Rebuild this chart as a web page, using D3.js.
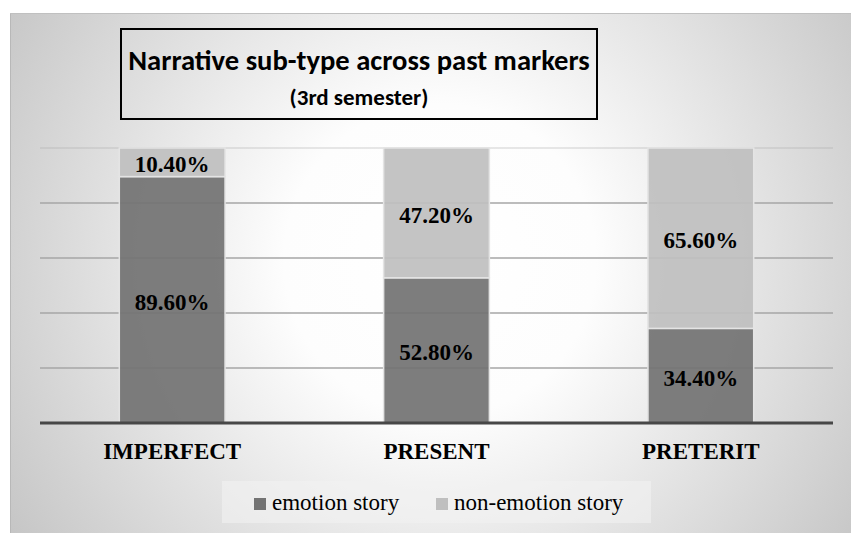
<!DOCTYPE html>
<html>
<head>
<meta charset="utf-8">
<script src="https://cdn.jsdelivr.net/npm/d3@7"></script>
<style>
  body { margin: 0; background: #fff; }
  svg { display: block; }
</style>
</head>
<body>
<svg class="chart"></svg>
<script>
let categories = ["IMPERFECT", "PRESENT", "PRETERIT"];
let emotion = [0.896, 0.528, 0.344];
let nonEmotion = [0.104, 0.472, 0.656];
let seriesNames = ["emotion story", "non-emotion story"];
let gridTicks = [0, 0.2, 0.4, 0.6, 0.8, 1];

let width = 851;
let height = 533;
let colors = ["#737373", "#bfbfbf"];
let serif = "'Liberation Serif', 'Times New Roman', serif";
let calibri = "Carlito, Calibri, Lato, sans-serif";

let svg = d3.select(".chart")
  .attr("width", width)
  .attr("height", height);

// background with soft radial gradient like the Excel chart area
let defs = svg.append("defs");
let grad = defs.append("radialGradient")
  .attr("id", "bg")
  .attr("gradientUnits", "userSpaceOnUse")
  .attr("cx", 440).attr("cy", 260).attr("r", 520);
grad.append("stop").attr("offset", "0%").attr("stop-color", "#ffffff");
grad.append("stop").attr("offset", "30%").attr("stop-color", "#fdfdfd");
grad.append("stop").attr("offset", "100%").attr("stop-color", "#c4c4c4");

svg.append("rect")
  .attr("x", 10).attr("y", 13)
  .attr("width", width - 10).attr("height", height - 13)
  .attr("fill", "url(#bg)");
svg.append("line")
  .attr("x1", 10.5).attr("x2", 10.5).attr("y1", 13).attr("y2", height)
  .attr("stroke", "#b8b8b8");
svg.append("line")
  .attr("x1", 10).attr("x2", width).attr("y1", 13.5).attr("y2", 13.5)
  .attr("stroke", "#c0c0c0");

let x = d3.scaleBand()
  .domain(categories)
  .range([40, 833])
  .paddingInner(0.6)
  .paddingOuter(0.3);

let y = d3.scaleLinear()
  .domain([0, 1])
  .range([423, 148]);

// gridlines
svg.append("g")
  .selectAll("line")
  .data(gridTicks.slice(1))
  .enter().append("line")
  .attr("x1", 40).attr("x2", 833)
  .attr("y1", function(d) { return y(d); })
  .attr("y2", function(d) { return y(d); })
  .attr("stroke", "#a6a6a6")
  .attr("stroke-opacity", function(d) { return d === 1 ? 0.35 : 1; })
  .attr("stroke-width", 1.5);

// stacked data
let rows = categories.map(function(c, i) {
  return { cat: c, emotion: emotion[i], nonEmotion: nonEmotion[i] };
});
let stack = d3.stack().keys(["emotion", "nonEmotion"]);
let layers = stack(rows);

let layer = svg.append("g")
  .selectAll("g")
  .data(layers)
  .enter().append("g")
  .attr("fill", function(d, i) { return colors[i]; });

layer.selectAll("rect")
  .data(function(d) { return d; })
  .enter().append("rect")
  .attr("x", function(d) { return x(d.data.cat); })
  .attr("width", x.bandwidth())
  .attr("y", function(d) { return y(d[1]); })
  .attr("height", function(d) { return y(d[0]) - y(d[1]); })
  .attr("fill-opacity", 0.93)
  .attr("stroke", "#e4e4e4")
  .attr("stroke-width", 1.5);

// value labels
layer.selectAll("text")
  .data(function(d) { return d; })
  .enter().append("text")
  .attr("x", function(d) { return x(d.data.cat) + x.bandwidth() / 2; })
  .attr("y", function(d) { return (y(d[0]) + y(d[1])) / 2 + 10; })
  .attr("text-anchor", "middle")
  .style("font-family", serif)
  .style("font-weight", "bold")
  .style("font-size", "23px")
  .attr("fill", "#000")
  .text(function(d) { return ((d[1] - d[0]) * 100).toFixed(2) + "%"; });

// x axis line
svg.append("line")
  .attr("x1", 40).attr("x2", 833)
  .attr("y1", y(0)).attr("y2", y(0))
  .attr("stroke", "#474747")
  .attr("stroke-width", 3);

// category labels
let xAxis = svg.append("g")
  .attr("transform", "translate(0," + y(0) + ")")
  .call(d3.axisBottom(x).tickSize(0).tickPadding(20));
xAxis.select(".domain").remove();
xAxis.selectAll("text")
  .style("font-family", serif)
  .style("font-weight", "bold")
  .style("font-size", "23px")
  .attr("fill", "#000");

// title box
svg.append("rect")
  .attr("x", 121).attr("y", 29)
  .attr("width", 476).attr("height", 90)
  .attr("fill", "none")
  .attr("stroke", "#000")
  .attr("stroke-width", 2);
svg.append("text")
  .attr("x", 359).attr("y", 70)
  .attr("text-anchor", "middle")
  .style("font-family", calibri)
  .style("font-weight", "bold")
  .style("font-size", "28.6px")
  .text("Narrative sub-type across past markers");
svg.append("text")
  .attr("x", 359).attr("y", 105)
  .attr("text-anchor", "middle")
  .style("font-family", calibri)
  .style("font-weight", "bold")
  .style("font-size", "23px")
  .text("(3rd semester)");

// legend
let legend = svg.append("g");
legend.append("rect")
  .attr("x", 222).attr("y", 481)
  .attr("width", 429).attr("height", 42)
  .attr("fill", "#f2f2f2")
  .attr("fill-opacity", 0.6);
let legendX = [254, 436];
let item = legend.selectAll("g")
  .data(seriesNames)
  .enter().append("g")
  .attr("transform", function(d, i) { return "translate(" + legendX[i] + ",498)"; });
item.append("rect")
  .attr("width", 12).attr("height", 12)
  .attr("fill", function(d, i) { return colors[i]; });
item.append("text")
  .attr("x", 18).attr("y", 12)
  .style("font-family", serif)
  .style("font-size", "23px")
  .attr("fill", "#000")
  .text(function(d) { return d; });
</script>
</body>
</html>
